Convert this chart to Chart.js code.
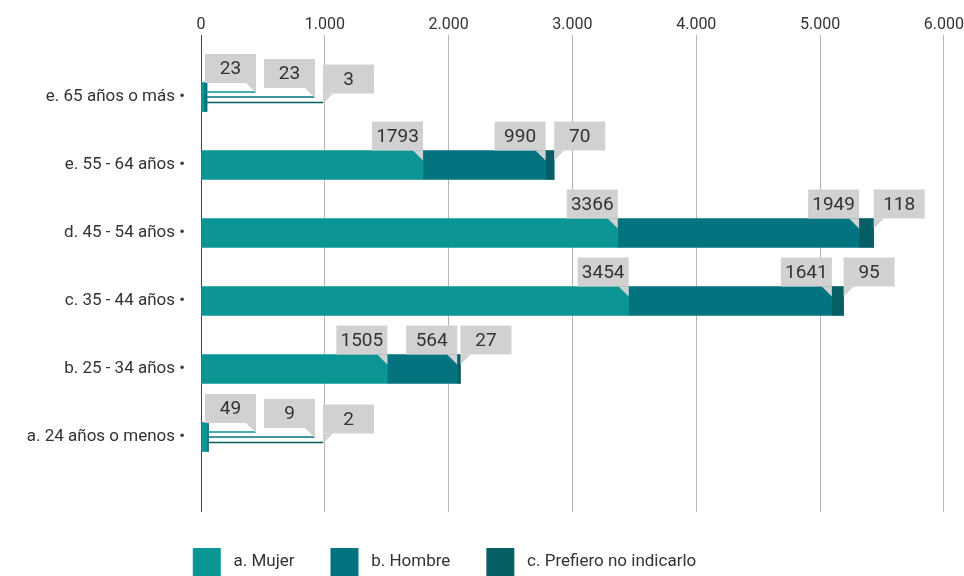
<!DOCTYPE html>
<html>
<head>
<meta charset="utf-8">
<script src="https://cdn.jsdelivr.net/npm/chart.js@4.4.1/dist/chart.umd.min.js"></script>
<style>
  html, body { margin: 0; padding: 0; background: #fff; }
  #wrap { width: 964px; height: 576px; }
</style>
</head>
<body>
<div id="wrap"><canvas id="myChart" width="964" height="576"></canvas></div>
<script>
/* Data */
const categories = ['e. 65 años o más •', 'e. 55 - 64 años •', 'd. 45 - 54 años •', 'c. 35 - 44 años •', 'b. 25 - 34 años •', 'a. 24 años o menos •'];
const seriesNames = ['a. Mujer', 'b. Hombre', 'c. Prefiero no indicarlo'];
const mujer = [23, 1793, 3366, 3454, 1505, 49];
const hombre = [23, 990, 1949, 1641, 564, 9];
const prefiero = [3, 70, 118, 95, 27, 2];
const xTicks = [0, 1000, 2000, 3000, 4000, 5000, 6000];

const colors = ['#0b9595', '#047380', '#065f64'];
const FONT = 'Roboto, "Noto Sans", sans-serif';

const toPoints = arr => arr.map((v, i) => ({x: v, y: i}));
const fmt = v => String(v).replace(/\B(?=(\d{3})+(?!\d))/g, '.');

/* Callout labels */
const calloutPlugin = {
  id: 'callouts',
  afterDatasetsDraw(chart) {
    const ctx = chart.ctx;
    const area = chart.chartArea;
    const W = 51, H = 29, T = 10;
    const offsets = [-5, 0, 5.5];
    ctx.save();
    for (let i = 0; i < categories.length; i++) {
      let prevRight = null;
      chart.data.datasets.forEach((ds, d) => {
        const el = chart.getDatasetMeta(d).data[i];
        const endX = el.x;
        const cy = el.y;
        const barTop = cy - 14.5;
        const rightTail = d < 2;
        const want = rightTail ? endX - W : endX;
        const minLeft = prevRight === null ? area.left + 4 : prevRight;
        const shifted = want < minLeft;
        let left, bottom, tipY;
        if (shifted) {
          left = prevRight === null ? area.left + 4 : prevRight + 8;
          tipY = cy + offsets[d];
          bottom = tipY - 9;
        } else {
          left = want;
          bottom = barTop;
          tipY = barTop + 9;
        }
        const tipX = rightTail ? left + W : left;
        if (shifted) {
          ctx.strokeStyle = colors[d];
          ctx.lineWidth = 1.5;
          ctx.beginPath();
          ctx.moveTo(endX, tipY);
          ctx.lineTo(tipX, tipY);
          ctx.stroke();
        }
        ctx.fillStyle = '#d1d1d1';
        ctx.fillRect(left, bottom - H, W, H);
        ctx.beginPath();
        if (rightTail) {
          ctx.moveTo(tipX - T, bottom);
          ctx.lineTo(tipX, bottom);
          ctx.lineTo(tipX, bottom + T);
        } else {
          ctx.moveTo(tipX, bottom);
          ctx.lineTo(tipX + T, bottom);
          ctx.lineTo(tipX, bottom + T);
        }
        ctx.closePath();
        ctx.fill();
        ctx.fillStyle = '#333';
        ctx.font = '19px ' + FONT;
        ctx.textAlign = 'center';
        ctx.textBaseline = 'middle';
        ctx.fillText(String(ds.data[i].x), left + W / 2, bottom - H / 2 + 1);
        prevRight = left + W;
      });
    }
    ctx.restore();
  }
};

/* Legend sits a bit left of centre */
const legendShift = {
  id: 'legendShift',
  afterLayout(chart) {
    const lg = chart.legend;
    lg.left -= 28;
    lg.right -= 28;
  }
};

function initChart() {
  const ctx = document.getElementById('myChart').getContext('2d');
  // eslint-disable-next-line no-undef
  const myChart = new Chart(ctx, {
    type: 'bar',
    data: {
      datasets: [mujer, hombre, prefiero].map((arr, d) => ({
        label: ' ' + seriesNames[d],
        data: toPoints(arr),
        backgroundColor: colors[d],
        borderWidth: 0,
        barThickness: 29
      }))
    },
    plugins: [calloutPlugin, legendShift],
    options: {
      indexAxis: 'y',
      responsive: false,
      animation: false,
      devicePixelRatio: 1,
      layout: { padding: { left: 0, right: 19, top: 0, bottom: 0 } },
      scales: {
        x: {
          type: 'linear',
          position: 'top',
          stacked: true,
          min: 0,
          max: 6000,
          afterBuildTicks: s => { s.ticks = xTicks.map(v => ({value: v})); },
          afterFit: s => { s.height = 38; },
          border: { display: false },
          grid: {
            color: c => (c.tick && c.tick.value === 0) ? '#444' : '#b5b5b5',
            tickLength: 3,
            lineWidth: 1
          },
          ticks: {
            padding: 0,
            color: '#333',
            font: { family: FONT, size: 16 },
            callback: v => fmt(v)
          }
        },
        y: {
          type: 'linear',
          reverse: true,
          stacked: true,
          offset: false,
          min: -0.868,
          max: 6.103,
          afterBuildTicks: s => { s.ticks = categories.map((c, i) => ({value: i})); },
          afterFit: s => { s.width = 201; },
          border: { display: false },
          grid: { display: false, drawTicks: false, offset: false },
          ticks: {
            padding: 16,
            color: '#333',
            font: { family: FONT, size: 17 },
            callback: v => categories[v]
          }
        }
      },
      plugins: {
        legend: {
          position: 'bottom',
          maxHeight: 64,
          labels: {
            boxWidth: 28,
            boxHeight: 28,
            padding: 36,
            color: '#333',
            font: { family: FONT, size: 17 }
          }
        },
        tooltip: { enabled: false }
      }
    }
  });
}

initChart();
</script>
</body>
</html>
